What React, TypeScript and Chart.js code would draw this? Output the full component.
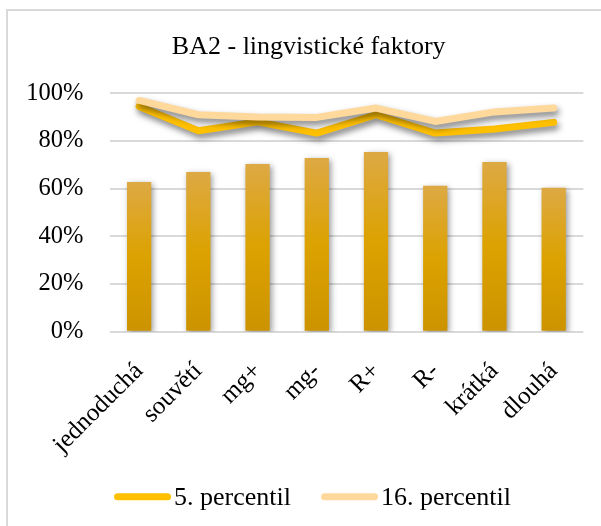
import React, { useEffect, useRef } from 'react';
import { Chart, registerables } from 'chart.js';

Chart.register(...registerables);

const TITLE = 'BA2 - lingvistické faktory';
const categories = ['jednoduchá', 'souvětí', 'mg+', 'mg-', 'R+', 'R-', 'krátká', 'dlouhá'];
const barValues = [62.8, 67.0, 70.3, 72.9, 75.4, 61.2, 71.2, 60.4];
const p5Values = [94.5, 84.3, 88.0, 83.3, 91.0, 83.3, 85.0, 87.8];
const p16Values = [97.0, 91.0, 90.1, 89.9, 93.8, 88.2, 92.2, 93.8];
const yTickValues = [0, 20, 40, 60, 80, 100];
const seriesNames = ['5. percentil', '16. percentil'];

const FONT = '"Liberation Serif", "Times New Roman", serif';
const GOLD = '#FFC000';
const PEACH = '#FFD89C';

const framePlugin = {
  id: 'frame',
  beforeDraw(chart: any) {
    const ctx = chart.ctx;
    ctx.save();
    ctx.fillStyle = '#ffffff';
    ctx.fillRect(0, 0, chart.width, chart.height);
    ctx.strokeStyle = '#D9D9D9';
    ctx.lineWidth = 2;
    ctx.strokeRect(7, 10, chart.width + 50, chart.height + 50);
    ctx.restore();
  },
};

const shadowPlugin = {
  id: 'shadows',
  beforeDatasetDraw(chart: any, args: any) {
    const ctx = chart.ctx;
    ctx.save();
    const ds = chart.data.datasets[args.index];
    if (ds.type === 'bar') {
      ctx.shadowColor = 'rgba(0,0,0,0.4)';
      ctx.shadowBlur = 6;
      ctx.shadowOffsetX = 2;
      ctx.shadowOffsetY = 2;
    } else {
      ctx.shadowColor = 'rgba(0,0,0,0.5)';
      ctx.shadowBlur = 6;
      ctx.shadowOffsetX = 2;
      ctx.shadowOffsetY = 4;
    }
  },
  afterDatasetDraw(chart: any) {
    chart.ctx.restore();
  },
};

const titleLegendPlugin = {
  id: 'titleLegend',
  afterDraw(chart: any) {
    const ctx = chart.ctx;
    ctx.save();
    // title
    ctx.font = `26px ${FONT}`;
    ctx.fillStyle = '#000000';
    ctx.textAlign = 'center';
    ctx.textBaseline = 'alphabetic';
    ctx.fillText(TITLE, 308.7, 53.5);
    // legend, in series order
    const items = seriesNames
      .map((name) => chart.data.datasets.find((d: any) => d.type === 'line' && d.label === name))
      .filter(Boolean);
    const lineLen = 50;
    const cap = 3.5;
    const textGap = 3;
    const itemGap = 30;
    ctx.font = `26px ${FONT}`;
    const widths = items.map((d: any) => ctx.measureText(d.label).width);
    let total = 0;
    items.forEach((_: any, i: number) => {
      total += lineLen + 2 * cap + textGap + widths[i];
      if (i < items.length - 1) total += itemGap;
    });
    let x = 312.5 - total / 2;
    const yLine = 496.7;
    const yText = 505;
    ctx.textAlign = 'left';
    items.forEach((d: any, i: number) => {
      ctx.strokeStyle = d.borderColor;
      ctx.lineWidth = d.borderWidth;
      ctx.lineCap = 'round';
      ctx.beginPath();
      ctx.moveTo(x + cap, yLine);
      ctx.lineTo(x + cap + lineLen, yLine);
      ctx.stroke();
      x += lineLen + 2 * cap + textGap;
      ctx.fillStyle = '#000000';
      ctx.fillText(d.label, x, yText);
      x += widths[i] + itemGap;
    });
    ctx.restore();
  },
};

export default function App() {
  const ref = useRef<HTMLCanvasElement | null>(null);

  useEffect(() => {
    if (!ref.current) return;
    const chart = new Chart(ref.current, {
      type: 'bar',
      data: {
        labels: categories,
        datasets: [
          {
            type: 'line',
            label: seriesNames[1],
            data: p16Values,
            borderColor: PEACH,
            backgroundColor: PEACH,
            borderWidth: 7,
            borderCapStyle: 'round',
            borderJoinStyle: 'round',
            pointRadius: 0,
            tension: 0,
            fill: false,
            order: 1,
          } as any,
          {
            type: 'line',
            label: seriesNames[0],
            data: p5Values,
            borderColor: GOLD,
            backgroundColor: GOLD,
            borderWidth: 7,
            borderCapStyle: 'round',
            borderJoinStyle: 'round',
            pointRadius: 0,
            tension: 0,
            fill: false,
            order: 2,
          } as any,
          {
            type: 'bar',
            label: '',
            data: barValues,
            barPercentage: 0.41,
            categoryPercentage: 1,
            backgroundColor: (c: any) => {
              const chart = c.chart;
              const { ctx, chartArea, scales } = chart;
              if (!chartArea || c.type !== 'data' || !scales.y) return '#D9A000';
              const top = scales.y.getPixelForValue(c.raw);
              const bottom = scales.y.getPixelForValue(0);
              const g = ctx.createLinearGradient(0, top, 0, bottom);
              g.addColorStop(0, '#DDA944');
              g.addColorStop(0.5, '#DCA200');
              g.addColorStop(1, '#CC9300');
              return g;
            },
            borderWidth: 0,
            order: 3,
          } as any,
        ],
      },
      options: {
        responsive: false,
        animation: false,
        devicePixelRatio: 1,
        layout: { padding: { top: 93.3, left: 0, right: 17.7, bottom: 0 } },
        plugins: {
          legend: { display: false },
          title: { display: false },
          tooltip: { enabled: false },
        },
        scales: {
          x: {
            grid: { display: false },
            border: { display: false },
            ticks: {
              autoSkip: false,
              minRotation: 45,
              maxRotation: 45,
              color: '#000000',
              padding: 17,
              font: { family: FONT, size: 25 },
            },
            afterFit: (scale: any) => {
              scale.height = 194.3;
            },
          },
          y: {
            min: 0,
            max: 100,
            afterBuildTicks: (scale: any) => {
              scale.ticks = yTickValues.map((v) => ({ value: v }));
            },
            grid: { color: '#D9D9D9', lineWidth: 2, drawTicks: false },
            border: { display: false },
            ticks: {
              color: '#000000',
              padding: 26,
              font: { family: FONT, size: 24.5 },
              callback: (v: any) => `${v}%`,
            },
            afterFit: (scale: any) => {
              scale.width = 109.5;
            },
          },
        },
      },
      plugins: [framePlugin, shadowPlugin, titleLegendPlugin],
    });
    return () => chart.destroy();
  }, []);

  return (
    <div style={{ position: 'fixed', left: 0, top: 0, width: 601, height: 526, overflow: 'hidden', background: '#fff' }}>
      <canvas ref={ref} width={601} height={526} style={{ display: 'block' }} />
    </div>
  );
}
